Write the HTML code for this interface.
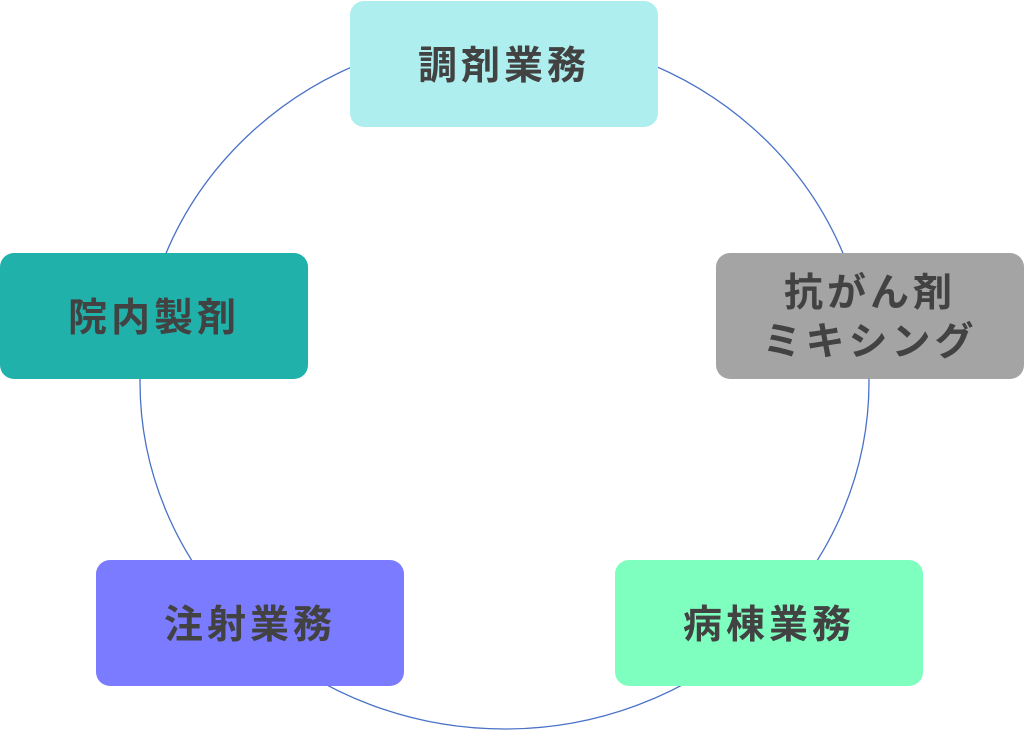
<!DOCTYPE html>
<html><head><meta charset="utf-8"><style>
body{margin:0;width:1024px;height:731px;background:#fff;position:relative;overflow:hidden;font-family:"Liberation Sans","Noto Sans CJK JP",sans-serif}
.b{position:absolute;width:308px;height:126px;border-radius:14px;display:flex;align-items:center;justify-content:center;text-align:center;color:#424242;font-weight:bold;font-size:39px;letter-spacing:4px;line-height:49px;padding-top:4px;box-sizing:border-box}
svg{position:absolute;left:0;top:0}
</style></head><body>
<svg width="1024" height="731"><ellipse cx="504.5" cy="382" rx="364.5" ry="347" fill="none" stroke="#4a72c8" stroke-width="1.3"/></svg>
<div class="b" style="left:350px;top:1px;background:#afeeee">調剤業務</div>
<div class="b" style="left:716px;top:253px;background:#a4a4a4">抗がん剤<br>ミキシング</div>
<div class="b" style="left:0px;top:253px;background:#20b2aa">院内製剤</div>
<div class="b" style="left:96px;top:560px;background:#7b7bff">注射業務</div>
<div class="b" style="left:615px;top:560px;background:#7fffbf">病棟業務</div>
</body></html>
